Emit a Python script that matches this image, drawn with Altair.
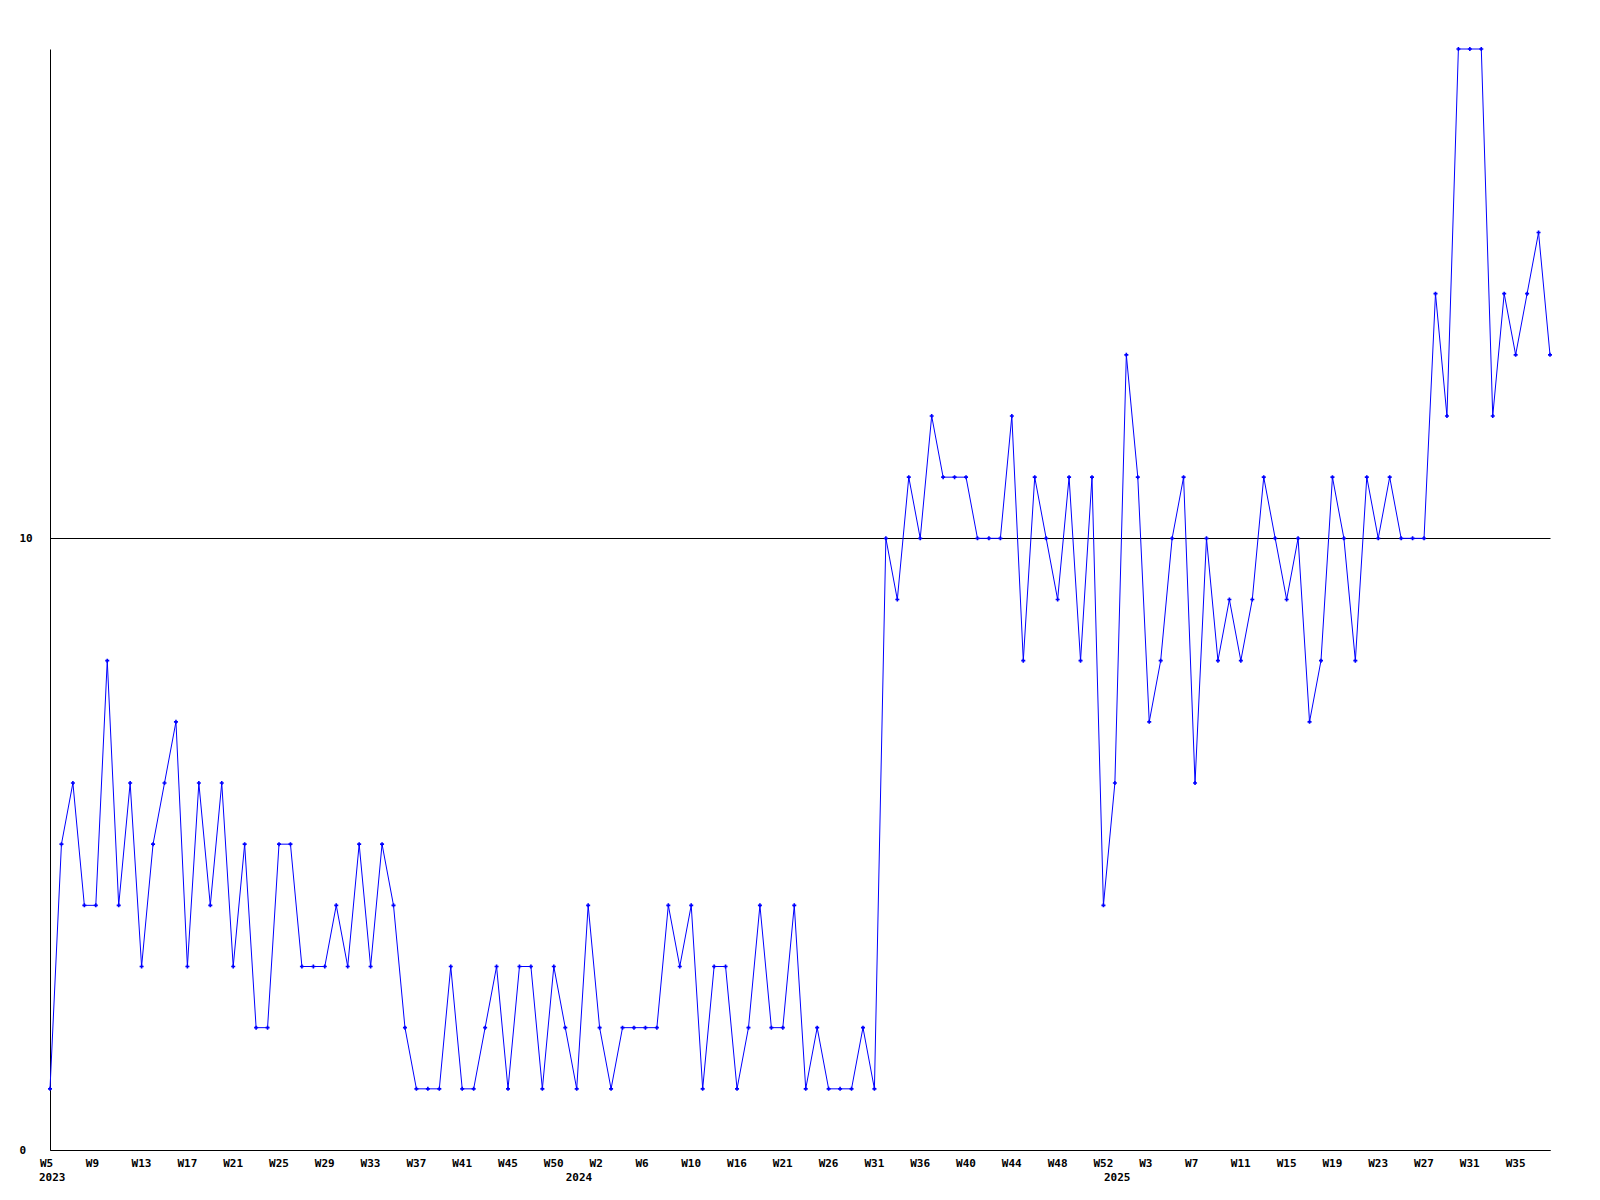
import altair as alt
import pandas as pd

# ---- data ----
weeks_2023 = [5, 6, 7, 8, 9, 10, 11, 12, 13, 14, 15, 16, 17, 18, 19, 20, 21, 22, 23, 24,
              25, 26, 27, 28, 29, 30, 31, 32, 33, 34, 35, 36, 37, 38, 39, 40, 41, 42, 43, 44,
              45, 46, 47, 48, 50, 51]
weeks_2024 = [0, 1, 2, 3, 4, 5, 6, 7, 8, 9, 10, 11, 12, 14, 16, 17, 18, 20, 21, 22,
              23, 24, 26, 27, 28, 30, 31, 32, 33, 35, 36, 37, 38, 39, 40, 41, 42, 43, 44, 45,
              46, 47, 48, 49, 50, 51, 52]
weeks_2025 = [0, 1, 2, 3, 4, 5, 6, 7, 8, 9, 10, 11, 12, 13, 14, 15, 16, 17, 18, 19,
              20, 21, 22, 23, 24, 25, 26, 27, 28, 29, 30, 31, 32, 33, 34, 35, 36, 37, 38]

values = [1, 5, 6, 4, 4, 8, 4, 6, 3, 5, 6, 7, 3, 6, 4, 6, 3, 5, 2, 2, 5, 5, 3, 3, 3, 4,
          3, 5, 3, 5, 4, 2, 1, 1, 1, 3, 1, 1, 2, 3, 1, 3, 3, 1, 3, 2, 1, 4, 2, 1, 2,
          2, 2, 2, 4, 3, 4, 1, 3, 3, 1, 2, 4, 2, 2, 4, 1, 2, 1, 1, 1, 2, 1,
          10, 9, 11, 10, 12, 11, 11, 11, 10, 10, 10, 12, 8, 11, 10, 9, 11, 8, 11, 4, 6, 13, 11, 7, 8, 10, 11, 6,
          10, 8, 9, 8, 9, 11, 10, 9, 10, 7, 8, 11, 10, 8, 11, 10, 11, 10, 10, 10, 14, 12, 18, 18, 18, 12, 14, 13, 14, 15, 13]

year_labels = ["2023", "2024", "2025"]
year_start_keys = ["2023-W5", "2024-W0", "2025-W0"]

y_ticks = [0, 10]
y_max = 18

# ---- build table ----
keys = ([f"2023-W{w}" for w in weeks_2023] +
        [f"2024-W{w}" for w in weeks_2024] +
        [f"2025-W{w}" for w in weeks_2025])
df = pd.DataFrame({"key": keys, "value": values})
tick_keys = keys[0::4]
years_df = pd.DataFrame({"key": year_start_keys, "year": year_labels})

W, H = 1500, 1101
FONT = "DejaVu Sans Mono"

xscale = alt.Scale(domain=keys, type="point", padding=0)
yscale = alt.Scale(domain=[0, y_max], nice=False, zero=True)

xaxis = alt.Axis(
    values=tick_keys, labelExpr="split(datum.label, '-')[1]", title=None,
    ticks=False, tickSize=0, grid=False, domainColor="black", domainWidth=1,
    labelFont=FONT, labelFontSize=11, labelFontWeight="bold", labelColor="black",
    labelAlign="left", labelOffset=-10.5, labelPadding=7, labelBaseline="top",
    labelFlush=False, labelOverlap=False, labelBound=False, labelAngle=0,
)
yaxis = alt.Axis(
    values=y_ticks, format="d", title=None, ticks=False, tickSize=0, grid=True,
    gridColor="black", gridWidth=1, gridOpacity=1, domainColor="black", domainWidth=1,
    labelFont=FONT, labelFontSize=11, labelFontWeight="bold", labelColor="black",
    labelAlign="left", labelBaseline="middle", labelPadding=31,
)

base = alt.Chart(df)
line = base.mark_line(color="#0000ff", strokeWidth=1).encode(
    x=alt.X("key:O", scale=xscale, axis=xaxis),
    y=alt.Y("value:Q", scale=yscale, axis=yaxis),
)
pts = base.mark_point(shape="cross", filled=True, size=16, color="#0000ff", opacity=1).encode(
    x=alt.X("key:O", scale=xscale),
    y=alt.Y("value:Q", scale=yscale),
)
years = alt.Chart(years_df).mark_text(
    font=FONT, fontSize=11, fontWeight="bold", color="black",
    align="left", baseline="top", dx=-11,
).encode(
    x=alt.X("key:O", scale=xscale),
    y=alt.value(H + 22),
    text="year:N",
)

chart = alt.layer(line, pts, years).properties(
    width=W, height=H,
    background="white",
    autosize=alt.AutoSizeParams(type="none"),
    padding={"left": 42, "top": 41, "right": 40, "bottom": 40},
).configure_view(stroke=None)

chart.save("out.html", embed_options={"renderer": "svg", "actions": False})
